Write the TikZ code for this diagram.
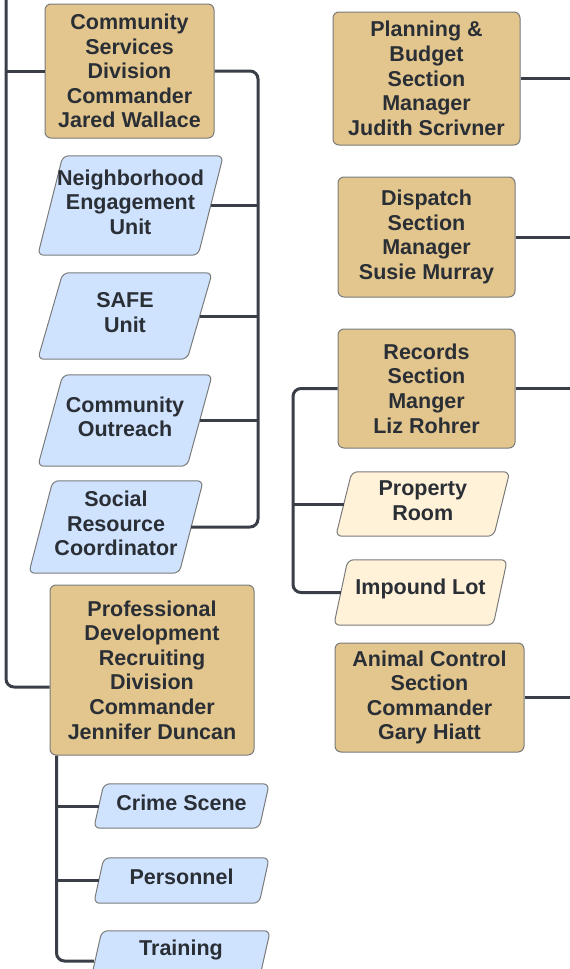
\documentclass[tikz,border=0pt]{standalone}
\usepackage{fontspec}
\setmainfont{Liberation Sans}
\definecolor{tanfill}{HTML}{E3C68E}
\definecolor{lblue}{HTML}{CFE3FF}
\definecolor{lcream}{HTML}{FFF2D8}
\definecolor{linec}{HTML}{3A3F47}
\definecolor{txt}{HTML}{2A2E35}
\definecolor{bord}{HTML}{7A7A7A}
\tikzset{
  lbl/.style={font=\fontsize{21.5}{24.6}\selectfont\bfseries, text=txt, align=center, inner sep=0pt},
  mgr/.style={lbl, draw=bord, line width=1pt, fill=tanfill, rounded corners=6pt},
  unitbox/.style={rectangle, inner sep=0pt},
  conn/.style={draw=linec, line width=3pt, rounded corners=8pt},
  pshape/.style={draw=bord, line width=1pt, rounded corners=6pt},
}
% name, centre, width, height, half skew, fill, text
\newcommand{\unitnode}[7]{%
  \node[unitbox, minimum width=#3, minimum height=#4] (#1) at #2 {};
  \path[pshape, fill=#6] ([xshift=#5]#1.north west) -- ([xshift=#5]#1.north east) -- ([xshift=-#5]#1.south east) -- ([xshift=-#5]#1.south west) -- cycle;
  \node[lbl] (#1-t) at ([yshift=3.5pt]#1.center) {#7};}
\begin{document}
\begin{tikzpicture}[x=1pt,y=-1pt]
\useasboundingbox (0,0) rectangle (570,969);
% left column
\node[mgr, minimum width=169pt, minimum height=134pt] (cs) at (129.5,71) {Community\\Services\\Division\\Commander\\Jared Wallace};
\unitnode{ne}{(130.5,205.5)}{160pt}{99pt}{12.5pt}{lblue}{Neighborhood\\Engagement\\Unit}
\unitnode{sf}{(125,316)}{149pt}{86pt}{12.5pt}{lblue}{SAFE\\Unit}
\unitnode{co}{(125,420.5)}{149pt}{91pt}{12.5pt}{lblue}{Community\\Outreach}
\unitnode{sr}{(116,527)}{150pt}{92pt}{12pt}{lblue}{Social\\Resource\\Coordinator}
\node[mgr, minimum width=204pt, minimum height=170pt] (pd) at (152,670) {Professional\\Development\\Recruiting\\Division\\Commander\\Jennifer Duncan};
\unitnode{cr}{(181.5,806)}{165pt}{44pt}{5pt}{lblue}{Crime Scene}
\unitnode{pe}{(181.5,880.5)}{165pt}{45pt}{5pt}{lblue}{Personnel}
\unitnode{tr}{(181,953)}{168pt}{44pt}{5pt}{lblue}{Training}
% right column
\node[mgr, minimum width=187pt, minimum height=133pt] (pb) at (426.5,78.5) {Planning \&\\Budget\\Section\\Manager\\Judith Scrivner};
\node[mgr, minimum width=177pt, minimum height=120pt] (di) at (426.5,237) {Dispatch\\Section\\Manager\\Susie Murray};
\node[mgr, minimum width=177pt, minimum height=119pt] (re) at (426.5,388.5) {Records\\Section\\Manger\\Liz Rohrer};
\unitnode{pr}{(422.75,504)}{157.5pt}{64pt}{8pt}{lcream}{Property\\Room}
\unitnode{il}{(420.5,592.5)}{159pt}{65pt}{7pt}{lcream}{Impound Lot}
\node[mgr, minimum width=189pt, minimum height=109pt] (ac) at (429.5,697.5) {Animal Control\\Section\\Commander\\Gary Hiatt};
% coordinates
\coordinate (top) at (6,0);
\coordinate (rb) at (258,71);
\coordinate (pdb) at ([xshift=7pt]pd.south west);
\coordinate (rl) at (293,389);
\coordinate (edge) at (570,0);
% connectors
\draw[conn] (top) |- ([yshift=-17pt]pd.west);
\draw[conn] (top |- cs.west) -- (cs.west);
\draw[conn] (cs.east) -| (rb |- sr.east) -- (sr.east);
\draw[conn] (ne.east) -- (rb |- ne.east);
\draw[conn] (sf.east) -- (rb |- sf.east);
\draw[conn] (co.east) -- (rb |- co.east);
\draw[conn] (pdb) |- ([xshift=-3pt,yshift=-8pt]tr.west);
\draw[conn] (pdb |- cr.west) -- (cr.west);
\draw[conn] (pdb |- pe.west) -- (pe.west);
\draw[conn] (re.west) -| (rl |- il.west) -- (il.west);
\draw[conn] (rl |- pr.west) -- (pr.west);
\draw[conn] (pb.east) -- (edge |- pb.east);
\draw[conn] (di.east) -- (edge |- di.east);
\draw[conn] (re.east) -- (edge |- re.east);
\draw[conn] (ac.east) -- (edge |- ac.east);
\end{tikzpicture}
\end{document}
